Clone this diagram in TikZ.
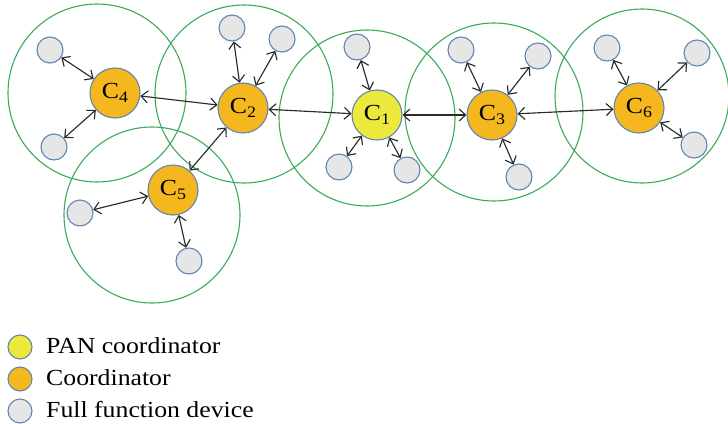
\documentclass[tikz,border=0pt]{standalone}
\usepackage{fontspec}
\setmainfont{Liberation Serif}
\newfontfamily\labelfont[FakeStretch=1.12]{Liberation Serif}
\usetikzlibrary{arrows.meta}
\definecolor{rangegreen}{HTML}{3BAA5A}
\definecolor{edgeblue}{HTML}{5F86B3}
\definecolor{pancol}{HTML}{ECE93C}
\definecolor{coordcol}{HTML}{F4B71E}
\definecolor{devcol}{HTML}{E6E6E6}
\definecolor{linkcol}{HTML}{2B2B2B}
\newcommand{\cname}[1]{C\raisebox{-0.35ex}{\fontsize{16}{16}\selectfont #1}}
\tikzset{
  radiorange/.style={draw=rangegreen, line width=1.1pt},
  coord/.style={circle, draw=edgeblue, line width=1.1pt, fill=coordcol,
    minimum size=50pt, inner sep=0pt, font=\labelfont\fontsize{23}{23}\selectfont},
  pan/.style={coord, fill=pancol},
  device/.style={circle, draw=edgeblue, line width=1.1pt, fill=devcol,
    minimum size=26pt, inner sep=0pt},
  key/.style={circle, draw=edgeblue, line width=1.1pt, minimum size=24pt, inner sep=0pt},
  keytext/.style={anchor=base west, inner sep=0pt, font=\labelfont\fontsize{23}{23}\selectfont},
  link/.style={draw=linkcol, line width=1.15pt,
    {Straight Barb[length=6.5pt,width=12pt]}-{Straight Barb[length=6.5pt,width=12pt]}}
}
\begin{document}
\begin{tikzpicture}[x=1pt, y=-1pt]
\useasboundingbox (0,0) rectangle (728,423);

% transmission ranges
\draw[radiorange] (97,93) circle (89);
\draw[radiorange] (244,94) circle (89);
\draw[radiorange] (152,215) circle (88);
\draw[radiorange] (367,118) circle (88);
\draw[radiorange] (494,112) circle (89);
\draw[radiorange] (642,96) circle (87);

% coordinators
\node[pan]   (c1) at (377,115) {\cname{1}};
\node[coord] (c2) at (243,108) {\cname{2}};
\node[coord] (c3) at (492,115) {\cname{3}};
\node[coord] (c4) at (115,93)  {\cname{4}};
\node[coord] (c5) at (173,190) {\cname{5}};
\node[coord] (c6) at (639,108) {\cname{6}};

% full function devices
\node[device] (d41) at (50,50)   {};
\node[device] (d42) at (54,147)  {};
\node[device] (d21) at (232,28)  {};
\node[device] (d22) at (282,39)  {};
\node[device] (d51) at (80,213)  {};
\node[device] (d52) at (189,261) {};
\node[device] (d11) at (357,47)  {};
\node[device] (d12) at (339,167) {};
\node[device] (d13) at (407,170) {};
\node[device] (d31) at (461,50)  {};
\node[device] (d32) at (538,56)  {};
\node[device] (d33) at (519,177) {};
\node[device] (d61) at (607,48)  {};
\node[device] (d62) at (697,53)  {};
\node[device] (d63) at (694,145) {};

% links between coordinators
\draw[link] (c4) -- (c2);
\draw[link] (c2) -- (c5);
\draw[link] (c2) -- (c1);
\draw[link] (c1) -- (c3);
\draw[link] (c3) -- (c6);

% links to devices
\foreach \d/\c in {d41/c4, d42/c4, d21/c2, d22/c2, d51/c5, d52/c5,
                   d11/c1, d12/c1, d13/c1, d31/c3, d32/c3, d33/c3,
                   d61/c6, d62/c6, d63/c6}
  \draw[link] (\d) -- (\c);

% legend
\node[key, fill=pancol]   (k1) at (20,347) {};
\node[key, fill=coordcol] (k2) at (20,379) {};
\node[key, fill=devcol]   (k3) at (20,411) {};
\node[keytext] (t1) at (46,353) {PAN coordinator};
\node[keytext] (t2) at (46,385) {Coordinator};
\node[keytext] (t3) at (46,417) {Full function device};
\end{tikzpicture}
\end{document}
